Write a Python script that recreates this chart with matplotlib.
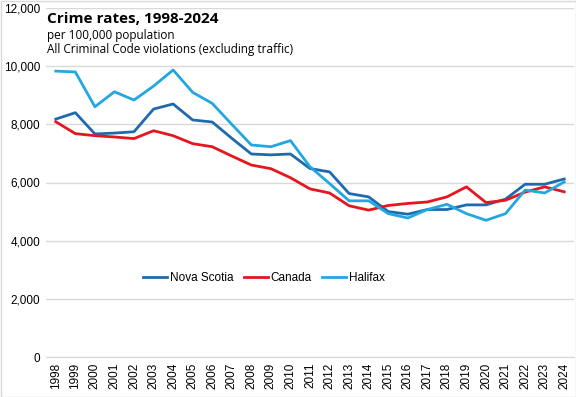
import matplotlib
matplotlib.use("Agg")
import matplotlib.pyplot as plt
from matplotlib.patches import Rectangle

years = list(range(1998, 2025))
nova_scotia = [8180, 8400, 7670, 7700, 7745, 8525, 8700, 8150, 8080, 7520, 6980, 6950, 6980,
               6480, 6365, 5620, 5505, 5000, 4910, 5070, 5070, 5230, 5230, 5430, 5940, 5940, 6120]
canada = [8090, 7680, 7610, 7565, 7510, 7780, 7610, 7335, 7230, 6910, 6600, 6475, 6165,
          5780, 5640, 5200, 5050, 5210, 5280, 5330, 5505, 5850, 5310, 5390, 5670, 5850, 5680]
halifax = [9830, 9800, 8605, 9120, 8835, 9315, 9870, 9100, 8720, 8000, 7290, 7230, 7440,
           6540, 5965, 5370, 5370, 4930, 4780, 5070, 5250, 4930, 4700, 4930, 5740, 5640, 6020]
yticks = [0, 2000, 4000, 6000, 8000, 10000, 12000]

plt.rcParams['font.family'] = ['Liberation Sans', 'DejaVu Sans']

fig = plt.figure(figsize=(5.76, 3.97), dpi=100)
ax = fig.add_axes([46/576, 40/397, 528/576, 349/397])

x = list(range(len(years)))
ax.plot(x, nova_scotia, color='#1F6AAE', lw=2, label='Nova Scotia')
ax.plot(x, canada, color='#E5161E', lw=2, label='Canada')
ax.plot(x, halifax, color='#22A7E0', lw=2, label='Halifax')

ax.set_xlim(-0.5, len(years) - 0.5)
ax.set_ylim(0, 12000)
ax.set_yticks(yticks)
ax.set_yticklabels([f"{v:,}" for v in yticks], fontsize=8.5)
ax.set_xticks(x)
ax.set_xticklabels([str(y) for y in years], rotation=90, fontsize=8.5)
ax.tick_params(length=0, pad=4)
ax.grid(axis='y', color='#D9D9D9', lw=1)
ax.set_axisbelow(True)
for s in ['top', 'left', 'right']:
    ax.spines[s].set_visible(False)
ax.spines['bottom'].set_color('#D9D9D9')

ax.legend(loc='center', bbox_to_anchor=(0.413, 0.226), ncol=3, frameon=False,
          fontsize=8.5, handlelength=2.0, columnspacing=0.9, handletextpad=0.25)

fig.text(47/576, 1 - 23/397, "Crime rates, 1998-2024", fontsize=11, fontweight='bold',
         family=['Open Sans', 'DejaVu Sans'], va='baseline')
fig.text(47/576, 1 - 38.5/397, "per 100,000 population", fontsize=8.5,
         family=['Open Sans', 'DejaVu Sans'], va='baseline')
fig.text(47/576, 1 - 53.5/397, "All Criminal Code violations (excluding traffic)", fontsize=8.5,
         family=['Open Sans', 'DejaVu Sans'], va='baseline')

fig.patches.append(Rectangle((0.5/576, 0.5/397), 575/576, 396/397, transform=fig.transFigure,
                             fill=False, edgecolor='#D9D9D9', lw=1))

fig.savefig("out.png", dpi=100)
